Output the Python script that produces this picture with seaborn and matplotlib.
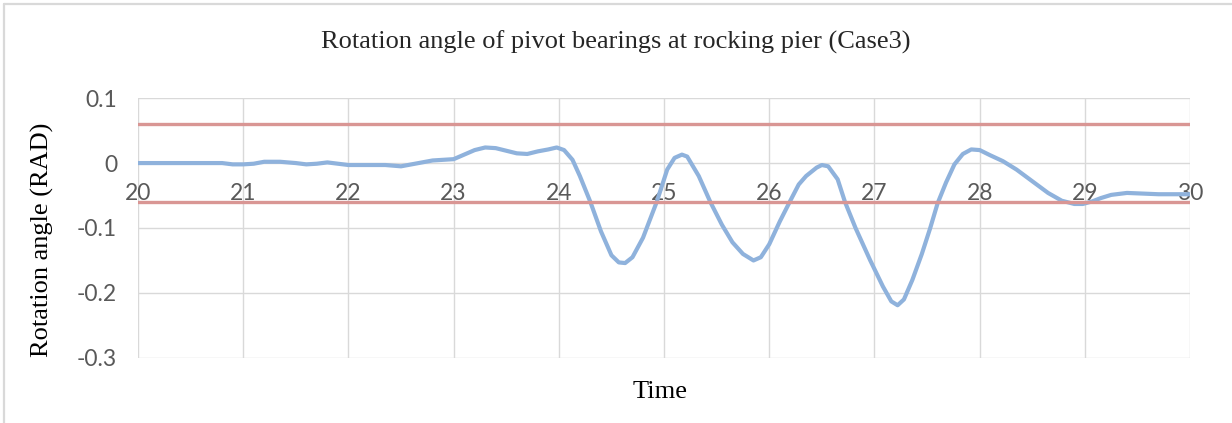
import matplotlib
matplotlib.use("Agg")
import matplotlib.pyplot as plt
import seaborn as sns
import pandas as pd
from matplotlib.lines import Line2D

# data
time = [20.0, 20.3, 20.6, 20.8, 20.9, 21.0, 21.1, 21.2, 21.35, 21.5, 21.6, 21.7,
        21.8, 21.9, 22.0, 22.2, 22.35, 22.5, 22.6, 22.7, 22.8, 23.0, 23.1, 23.2,
        23.3, 23.4, 23.5, 23.6, 23.7, 23.8, 23.9, 23.98, 24.05, 24.13, 24.2, 24.3,
        24.4, 24.5, 24.57, 24.63, 24.7, 24.8, 24.93, 25.03, 25.1, 25.17, 25.22,
        25.33, 25.44, 25.55, 25.65, 25.75, 25.85, 25.92, 26.0, 26.1, 26.2, 26.28,
        26.35, 26.45, 26.5, 26.56, 26.65, 26.72, 26.82, 26.96, 27.08, 27.16, 27.22,
        27.28, 27.36, 27.45, 27.53, 27.6, 27.68, 27.76, 27.84, 27.92, 28.0, 28.1,
        28.22, 28.35, 28.5, 28.65, 28.78, 28.9, 28.98, 29.07, 29.15, 29.25, 29.4,
        29.55, 29.7, 30.0]
rotation = [0.000, 0.000, 0.000, 0.000, -0.002, -0.002, -0.001, 0.002, 0.002, 0.000,
            -0.002, -0.001, 0.001, -0.001, -0.003, -0.003, -0.003, -0.005, -0.002,
            0.001, 0.004, 0.006, 0.013, 0.020, 0.024, 0.023, 0.019, 0.015, 0.014,
            0.018, 0.021, 0.024, 0.020, 0.005, -0.020, -0.060, -0.105, -0.142,
            -0.153, -0.154, -0.145, -0.115, -0.060, -0.010, 0.008, 0.013, 0.010,
            -0.020, -0.060, -0.095, -0.122, -0.140, -0.150, -0.145, -0.125, -0.090,
            -0.058, -0.033, -0.020, -0.007, -0.003, -0.005, -0.025, -0.060, -0.100,
            -0.150, -0.190, -0.213, -0.219, -0.210, -0.180, -0.140, -0.100, -0.062,
            -0.030, -0.002, 0.014, 0.021, 0.020, 0.012, 0.003, -0.010, -0.028,
            -0.046, -0.058, -0.063, -0.063, -0.059, -0.054, -0.049, -0.046, -0.047,
            -0.048, -0.048]
limits = [0.06, -0.06]
x_ticks = [20, 21, 22, 23, 24, 25, 26, 27, 28, 29, 30]
y_ticks = [-0.3, -0.2, -0.1, 0, 0.1]
y_labels = ["-0.3", "-0.2", "-0.1", "0", "0.1"]

df = pd.DataFrame({"Time": time, "Rotation": rotation})

sns.set_theme(style="white")
plt.rcParams["axes.unicode_minus"] = False

fig = plt.figure(figsize=(12.32, 4.23), dpi=100)
ax = fig.add_axes([0.112, 0.154, 0.854, 0.614])

sns.lineplot(data=df, x="Time", y="Rotation", ax=ax, color="#8fb2dc", lw=3.0,
             estimator=None, zorder=3)
line = ax.get_lines()[0]
line.set_solid_joinstyle("round")
line.set_solid_capstyle("round")
for lim in limits:
    ax.axhline(lim, color="#d99694", lw=2.4, zorder=4)

ax.set_xlim(20, 30)
ax.set_ylim(-0.3, 0.1)
ax.set_xticks(x_ticks)
ax.set_xticklabels([str(t) for t in x_ticks])
ax.set_yticks(y_ticks)
ax.set_yticklabels(y_labels)
ax.grid(True, color="#d9d9d9", lw=1.0)
ax.set_axisbelow(True)
for s in ax.spines.values():
    s.set_visible(False)
ax.spines["bottom"].set_position(("data", 0))

for lab in ax.get_xticklabels() + ax.get_yticklabels():
    lab.set_fontfamily("Lato")
    lab.set_fontsize(16.5)
    lab.set_color("#595959")
ax.tick_params(axis="x", length=0, pad=14)
ax.tick_params(axis="y", length=0, pad=15)

serif = ["Liberation Serif", "DejaVu Serif"]
ax.set_xlabel("Time", family=serif, fontsize=19, color="black")
ax.xaxis.set_label_coords(0.496, -0.09)
ax.set_ylabel("Rotation angle (RAD)", family=serif, fontsize=19, color="black")
ax.yaxis.set_label_coords(-0.08, 0.454)
fig.text(0.5, 0.90, "Rotation angle of pivot bearings at rocking pier (Case3)",
         family=serif, fontsize=19, ha="center", va="center")

# chart area border (top and left edges visible)
fig.add_artist(Line2D([4 / 1232, 1], [1 - 4 / 423, 1 - 4 / 423], color="#d9d9d9", lw=1.6))
fig.add_artist(Line2D([4 / 1232, 4 / 1232], [0, 1 - 4 / 423], color="#d9d9d9", lw=1.6))

fig.savefig("out.png", dpi=100)
